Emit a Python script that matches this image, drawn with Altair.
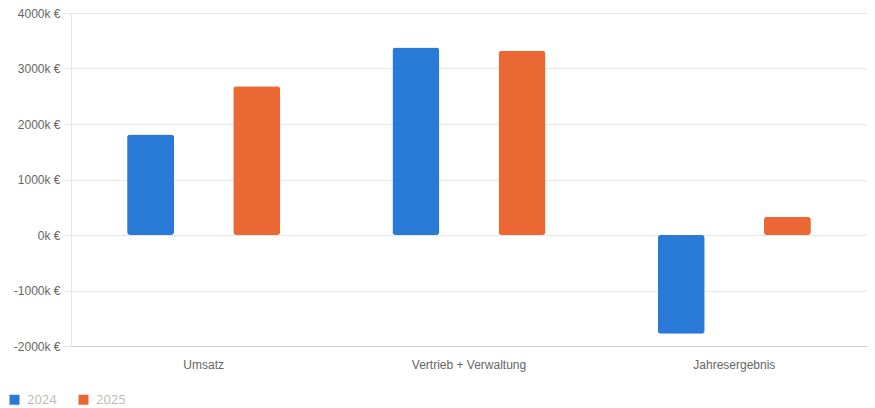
import altair as alt
import pandas as pd

categories = ["Umsatz", "Vertrieb + Verwaltung", "Jahresergebnis"]
years = ["2024", "2025"]
values_2024 = [1810, 3380, -1780]
values_2025 = [2680, 3320, 330]
y_ticks = [-2000, -1000, 0, 1000, 2000, 3000, 4000]

rows = []
for c, a, b in zip(categories, values_2024, values_2025):
    rows.append({"Kategorie": c, "Jahr": "2024", "Wert": a})
    rows.append({"Kategorie": c, "Jahr": "2025", "Wert": b})
df = pd.DataFrame(rows)

colors = ["#2979d6", "#eb6834"]

chart = alt.Chart(df).mark_bar(width=47, cornerRadius=3).encode(
    x=alt.X("Kategorie:N", sort=categories, title=None,
            scale=alt.Scale(paddingInner=0, paddingOuter=0),
            axis=alt.Axis(labelAngle=0, ticks=False, labelPadding=13,
                          labelFont="Liberation Sans", labelFontSize=12,
                          labelColor="#666666", domainColor="#cccccc",
                          grid=False)),
    xOffset=alt.XOffset("Jahr:N", sort=years,
                        scale=alt.Scale(paddingInner=0, paddingOuter=0.25)),
    y=alt.Y("Wert:Q", title=None,
            scale=alt.Scale(domain=[-2000, 4000], nice=False),
            axis=alt.Axis(values=y_ticks, labelExpr="datum.value + 'k €'",
                          labelFont="Liberation Sans", labelFontSize=12,
                          labelColor="#666666", labelPadding=3,
                          tickSize=8, tickColor="#e6e6e6", gridColor="#e6e6e6",
                          domainColor="#e6e6e6")),
    color=alt.Color("Jahr:N", sort=years,
                    scale=alt.Scale(domain=years, range=colors),
                    legend=alt.Legend(title=None, orient="none", direction="horizontal",
                                      legendX=-63, legendY=380,
                                      symbolType="square", symbolSize=100,
                                      symbolStrokeWidth=0, symbolOpacity=1,
                                      labelFont="Open Sans", labelFontSize=13,
                                      labelColor="#bdbab0", labelOffset=6,
                                      columnPadding=20)),
).properties(
    width=796, height=333,
    autosize=alt.AutoSizeParams(type="none"),
    padding={"left": 63, "top": 5, "right": 0, "bottom": 62},
).configure_view(stroke=None)

chart.save("out.html", embed_options={"renderer": "svg", "actions": False})
